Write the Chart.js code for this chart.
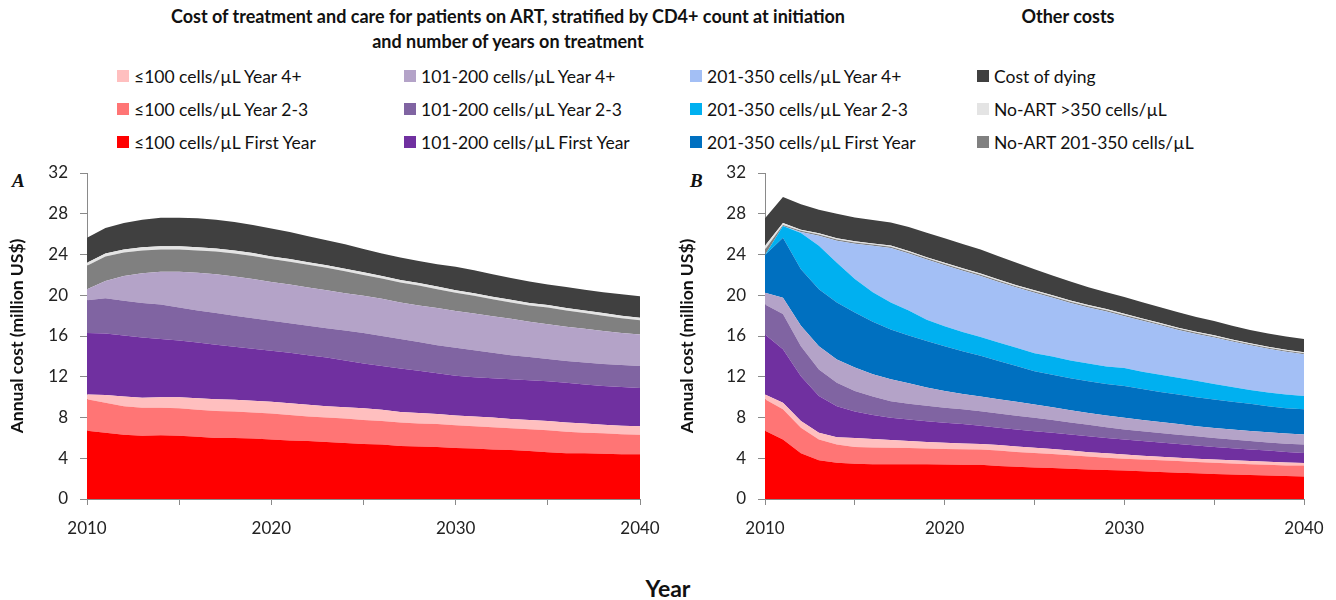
<!DOCTYPE html>
<html>
<head>
<meta charset="utf-8">
<script src="https://cdn.jsdelivr.net/npm/chart.js@4.4.1/dist/chart.umd.min.js"></script>
<style>
  body { margin: 0; width: 1336px; height: 600px; background: #fff; position: relative; overflow: hidden;
         font-family: Lato, "Open Sans", sans-serif; color: #111; }
  .title { position: absolute; font-weight: bold; font-size: 18px; text-align: center; line-height: 25px; }
  .legend-item { position: absolute; height: 20px; font-size: 17.5px; display: flex; align-items: center; white-space: nowrap; }
  .legend-item .box { width: 12px; height: 12px; margin-right: 5px; display: inline-block; }
  .panel { position: absolute; top: 150px; height: 410px; }
  .letter { position: absolute; font-family: "Liberation Serif", serif; font-style: italic; font-weight: bold; font-size: 19px; }
  #xlabel { position: absolute; left: 0; width: 1336px; top: 574px; text-align: center; font-weight: bold; font-size: 23px; }
</style>
</head>
<body>
<div class="title" style="left:108px; width:800px; top:4px;">Cost of treatment and care for patients on ART, stratified by CD4+ count at initiation<br>and number of years on treatment</div>
<div class="title" style="left:968px; width:200px; top:4px;">Other costs</div>
<div id="legend"></div>
<div class="letter" style="left:12px; top:170px;">A</div>
<div class="letter" style="left:690px; top:170px;">B</div>
<div class="panel" style="left:0; width:660px;"><canvas id="chartA"></canvas></div>
<div class="panel" style="left:670px; width:666px;"><canvas id="chartB"></canvas></div>
<div id="xlabel">Year</div>

<script>
const years = [2010, 2011, 2012, 2013, 2014, 2015, 2016, 2017, 2018, 2019, 2020,
  2021, 2022, 2023, 2024, 2025, 2026, 2027, 2028, 2029, 2030,
  2031, 2032, 2033, 2034, 2035, 2036, 2037, 2038, 2039, 2040];

// stack order, bottom to top
const seriesLabels = [
  "≤100 cells/µL First Year", "≤100 cells/µL Year 2-3", "≤100 cells/µL Year 4+",
  "101-200 cells/µL First Year", "101-200 cells/µL Year 2-3", "101-200 cells/µL Year 4+",
  "201-350 cells/µL First Year", "201-350 cells/µL Year 2-3", "201-350 cells/µL Year 4+",
  "No-ART 201-350 cells/µL", "No-ART >350 cells/µL", "Cost of dying"
];
const seriesColors = [
  "#ff0000", "#ff7575", "#ffbfbf",
  "#7030a0", "#8064a2", "#b4a3c8",
  "#0070c0", "#00b0f0", "#a3bff5",
  "#808080", "#e4e4e4", "#404040"
];

// Panel A (million US$ per year)
const a100First = [6.7, 6.5, 6.3, 6.2, 6.25, 6.2, 6.1, 6.0, 6.0, 5.95, 5.85, 5.75, 5.7, 5.6, 5.5, 5.4, 5.35, 5.2, 5.15, 5.1, 5.0, 4.95, 4.85, 4.8, 4.7, 4.6, 4.5, 4.5, 4.45, 4.4, 4.4];
const a100Y23 = [3.1, 2.95, 2.8, 2.75, 2.7, 2.7, 2.65, 2.65, 2.6, 2.55, 2.55, 2.5, 2.4, 2.4, 2.4, 2.35, 2.3, 2.3, 2.25, 2.25, 2.25, 2.2, 2.2, 2.15, 2.15, 2.15, 2.1, 2.0, 2.0, 1.95, 1.9];
const a100Y4 = [0.45, 0.75, 0.95, 1.0, 1.05, 1.1, 1.15, 1.15, 1.15, 1.15, 1.15, 1.15, 1.15, 1.1, 1.1, 1.15, 1.1, 1.05, 1.05, 1.0, 0.95, 0.95, 0.95, 0.9, 0.9, 0.9, 0.9, 0.9, 0.85, 0.85, 0.85];
const a200First = [6.05, 6.05, 6.0, 5.9, 5.7, 5.55, 5.45, 5.35, 5.2, 5.1, 5.0, 4.95, 4.85, 4.8, 4.6, 4.4, 4.3, 4.25, 4.15, 4.0, 3.9, 3.85, 3.85, 3.9, 3.9, 3.9, 3.9, 3.85, 3.8, 3.8, 3.75];
const a200Y23 = [3.2, 3.45, 3.4, 3.4, 3.4, 3.25, 3.15, 3.1, 3.05, 3.0, 2.95, 2.9, 2.9, 2.85, 2.95, 3.0, 2.95, 2.9, 2.8, 2.75, 2.75, 2.65, 2.5, 2.35, 2.3, 2.2, 2.15, 2.15, 2.15, 2.15, 2.15];
const a200Y4 = [1.1, 1.7, 2.45, 2.9, 3.2, 3.5, 3.7, 3.8, 3.85, 3.85, 3.8, 3.8, 3.75, 3.75, 3.65, 3.65, 3.65, 3.6, 3.6, 3.65, 3.6, 3.6, 3.6, 3.6, 3.45, 3.4, 3.35, 3.3, 3.25, 3.15, 3.1];
const a350First = [0, 0, 0, 0, 0, 0, 0, 0, 0, 0, 0, 0, 0, 0, 0, 0, 0, 0, 0, 0, 0, 0, 0, 0, 0, 0, 0, 0, 0, 0, 0];
const a350Y23 = [0, 0, 0, 0, 0, 0, 0, 0, 0, 0, 0, 0, 0, 0, 0, 0, 0, 0, 0, 0, 0, 0, 0, 0, 0, 0, 0, 0, 0, 0, 0];
const a350Y4 = [0, 0, 0, 0, 0, 0, 0, 0, 0, 0, 0, 0, 0, 0, 0, 0, 0, 0, 0, 0, 0, 0, 0, 0, 0, 0, 0, 0, 0, 0, 0];
const aNoArt201 = [2.3, 2.4, 2.3, 2.25, 2.2, 2.2, 2.2, 2.25, 2.25, 2.25, 2.25, 2.25, 2.25, 2.2, 2.15, 2.05, 2.0, 1.95, 1.95, 1.85, 1.8, 1.75, 1.65, 1.6, 1.6, 1.65, 1.6, 1.55, 1.5, 1.45, 1.4];
const aNoArt350 = [0.3, 0.3, 0.3, 0.3, 0.3, 0.3, 0.3, 0.3, 0.3, 0.3, 0.25, 0.25, 0.25, 0.25, 0.25, 0.25, 0.25, 0.25, 0.25, 0.25, 0.25, 0.25, 0.25, 0.25, 0.25, 0.25, 0.25, 0.25, 0.25, 0.25, 0.25];
const aDying = [2.45, 2.5, 2.6, 2.7, 2.8, 2.8, 2.85, 2.8, 2.8, 2.75, 2.75, 2.65, 2.55, 2.45, 2.4, 2.3, 2.2, 2.2, 2.15, 2.2, 2.3, 2.25, 2.2, 2.15, 2.1, 2.0, 2.05, 2.05, 2.05, 2.1, 2.1];

// Panel B
const b100First = [6.7, 5.85, 4.5, 3.8, 3.55, 3.45, 3.42, 3.42, 3.42, 3.4, 3.38, 3.36, 3.35, 3.25, 3.17, 3.1, 3.05, 2.97, 2.9, 2.85, 2.8, 2.73, 2.65, 2.58, 2.52, 2.46, 2.4, 2.35, 2.3, 2.25, 2.22];
const b100Y23 = [3.1, 2.95, 2.5, 2.05, 1.8, 1.65, 1.63, 1.6, 1.58, 1.55, 1.54, 1.52, 1.5, 1.5, 1.45, 1.42, 1.37, 1.33, 1.28, 1.2, 1.15, 1.15, 1.15, 1.14, 1.1, 1.09, 1.08, 1.07, 1.06, 1.05, 1.06];
const b100Y4 = [0.45, 0.65, 0.65, 0.65, 0.72, 0.9, 0.85, 0.78, 0.7, 0.65, 0.6, 0.57, 0.55, 0.55, 0.53, 0.5, 0.48, 0.45, 0.42, 0.43, 0.41, 0.37, 0.35, 0.33, 0.33, 0.32, 0.32, 0.3, 0.29, 0.28, 0.26];
const b200First = [5.9, 5.25, 4.4, 3.6, 3.03, 2.6, 2.35, 2.17, 2.1, 2.02, 1.96, 1.9, 1.8, 1.7, 1.67, 1.64, 1.6, 1.57, 1.55, 1.52, 1.48, 1.45, 1.4, 1.35, 1.3, 1.24, 1.18, 1.14, 1.1, 1.04, 0.98];
const b200Y23 = [2.95, 3.45, 2.95, 2.6, 2.3, 2.0, 1.8, 1.63, 1.55, 1.53, 1.47, 1.45, 1.42, 1.4, 1.36, 1.31, 1.25, 1.18, 1.13, 1.05, 0.98, 0.95, 0.93, 0.9, 0.9, 0.89, 0.87, 0.84, 0.8, 0.8, 0.82];
const b200Y4 = [1.15, 1.6, 2.0, 2.3, 2.3, 2.3, 2.2, 2.15, 2.0, 1.8, 1.65, 1.5, 1.43, 1.4, 1.37, 1.31, 1.25, 1.22, 1.17, 1.15, 1.15, 1.1, 1.07, 1.05, 1.0, 0.98, 0.97, 0.98, 1.0, 1.0, 0.99];
const b350First = [3.7, 5.9, 5.55, 5.6, 5.6, 5.4, 5.15, 4.9, 4.7, 4.55, 4.4, 4.2, 4.0, 3.75, 3.5, 3.27, 3.2, 3.13, 3.1, 3.1, 3.11, 3.05, 2.95, 2.9, 2.85, 2.79, 2.73, 2.67, 2.55, 2.48, 2.47];
const b350Y23 = [0, 1.15, 3.55, 4.25, 3.9, 3.3, 2.9, 2.65, 2.45, 2.1, 1.95, 1.9, 1.85, 1.8, 1.8, 1.75, 1.8, 1.75, 1.75, 1.7, 1.77, 1.7, 1.7, 1.65, 1.6, 1.53, 1.45, 1.35, 1.35, 1.35, 1.3];
const b350Y4 = [0, 0, 0.1, 1.0, 2.15, 3.45, 4.55, 5.35, 5.6, 5.9, 6.0, 6.0, 6.0, 5.95, 5.9, 5.95, 5.75, 5.65, 5.5, 5.4, 5.1, 5.0, 4.85, 4.7, 4.6, 4.55, 4.45, 4.4, 4.3, 4.2, 4.1];
const bNoArt201 = [0.55, 0.1, 0.12, 0.12, 0.12, 0.12, 0.12, 0.12, 0.12, 0.12, 0.12, 0.12, 0.12, 0.12, 0.12, 0.12, 0.12, 0.12, 0.12, 0.12, 0.12, 0.11, 0.11, 0.11, 0.11, 0.11, 0.1, 0.1, 0.1, 0.1, 0.1];
const bNoArt350 = [0.35, 0.2, 0.12, 0.12, 0.12, 0.12, 0.12, 0.12, 0.12, 0.12, 0.12, 0.12, 0.12, 0.12, 0.12, 0.12, 0.12, 0.12, 0.12, 0.12, 0.12, 0.11, 0.11, 0.11, 0.11, 0.11, 0.1, 0.1, 0.1, 0.1, 0.1];
const bDying = [2.7, 2.55, 2.5, 2.3, 2.4, 2.35, 2.3, 2.25, 2.35, 2.4, 2.4, 2.4, 2.35, 2.3, 2.2, 2.05, 1.95, 1.85, 1.75, 1.65, 1.65, 1.6, 1.55, 1.5, 1.45, 1.4, 1.35, 1.3, 1.3, 1.3, 1.3];

const yTicks = [0, 4, 8, 12, 16, 20, 24, 28, 32];

// legend grid: rows top to bottom, columns left to right (index into seriesLabels)
const legendGrid = [
  [2, 5, 8, 11],
  [1, 4, 7, 10],
  [0, 3, 6, 9]
];
const legendCols = [117, 404, 690, 977];
const legendRows = [76, 109, 142];

const legendEl = document.getElementById("legend");
legendGrid.forEach((row, r) => {
  row.forEach((idx, c) => {
    const item = document.createElement("div");
    item.className = "legend-item";
    item.style.left = legendCols[c] + "px";
    item.style.top = (legendRows[r] - 10) + "px";
    item.innerHTML = `<span class="box" style="background:${seriesColors[idx]}"></span>${seriesLabels[idx]}`;
    legendEl.appendChild(item);
  });
});

function makeDatasets(values) {
  return values.map((data, i) => ({
    label: seriesLabels[i],
    data: data,
    backgroundColor: seriesColors[i],
    borderWidth: 0,
    pointRadius: 0,
    tension: 0,
    fill: i === 0 ? "origin" : "-1"
  }));
}

function makeOptions(yWidth, rightPad) {
  const tickFont = { family: "Lato, 'Open Sans', sans-serif", size: 17 };
  return {
    responsive: false,
    animation: false,
    layout: { padding: { top: 23, right: rightPad, bottom: 0, left: 0 } },
    plugins: { legend: { display: false }, tooltip: { enabled: false } },
    scales: {
      x: {
        type: "linear",
        min: 2010,
        max: 2040,
        grid: { drawOnChartArea: false, drawTicks: true, tickLength: 6, color: "#8a8a8a" },
        border: { display: true, color: "#8a8a8a", width: 1 },
        ticks: {
          stepSize: 5,
          autoSkip: false,
          maxRotation: 0,
          padding: 13,
          color: "#222",
          font: tickFont,
          callback: v => (v % 10 === 0 ? String(v) : "")
        },
        afterFit: s => { s.height = 61; s.paddingLeft = 0; s.paddingRight = 0; }
      },
      y: {
        stacked: true,
        min: 0,
        max: 32,
        afterBuildTicks: s => { s.ticks = yTicks.map(v => ({ value: v })); },
        grid: { drawOnChartArea: false, drawTicks: true, tickLength: 7, color: "#8a8a8a" },
        border: { display: true, color: "#8a8a8a", width: 1 },
        ticks: { padding: 12, color: "#222", font: tickFont },
        title: {
          display: true,
          text: "Annual cost (million US$)",
          color: "#111",
          font: { family: "Lato, 'Open Sans', sans-serif", size: 17.5, weight: "bold" },
          padding: { top: 7, bottom: 0 }
        },
        afterFit: s => { s.width = yWidth; }
      }
    }
  };
}

const canvasA = document.getElementById("chartA");
canvasA.width = 660; canvasA.height = 410;
new Chart(canvasA, {
  type: "line",
  data: {
    labels: years,
    datasets: makeDatasets([a100First, a100Y23, a100Y4, a200First, a200Y23, a200Y4,
      a350First, a350Y23, a350Y4, aNoArt201, aNoArt350, aDying])
  },
  options: makeOptions(87, 20)
});

const canvasB = document.getElementById("chartB");
canvasB.width = 666; canvasB.height = 410;
new Chart(canvasB, {
  type: "line",
  data: {
    labels: years,
    datasets: makeDatasets([b100First, b100Y23, b100Y4, b200First, b200Y23, b200Y4,
      b350First, b350Y23, b350Y4, bNoArt201, bNoArt350, bDying])
  },
  options: makeOptions(95, 32)
});
</script>
</body>
</html>
